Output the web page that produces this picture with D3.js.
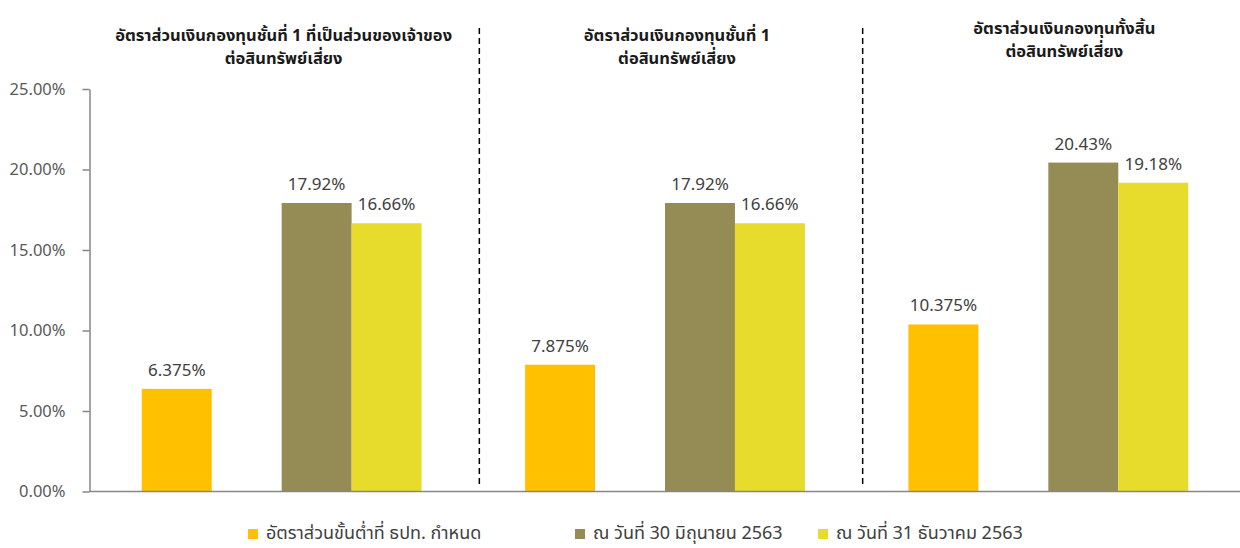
<!DOCTYPE html>
<html>
<head>
<meta charset="utf-8">
<script src="https://cdn.jsdelivr.net/npm/d3@7/dist/d3.min.js"></script>
<style>
  body { margin: 0; background: #fff; }
  svg text { font-family: Tahoma, "Noto Sans Thai", "DejaVu Sans", sans-serif; }
</style>
</head>
<body>
<svg id="chart" width="1240" height="548"></svg>
<script>
// Chart data
const groupTitles = [
  ["อัตราส่วนเงินกองทุนชั้นที่ 1 ที่เป็นส่วนของเจ้าของ", "ต่อสินทรัพย์เสี่ยง"],
  ["อัตราส่วนเงินกองทุนชั้นที่ 1", "ต่อสินทรัพย์เสี่ยง"],
  ["อัตราส่วนเงินกองทุนทั้งสิ้น", "ต่อสินทรัพย์เสี่ยง"]
];
const seriesNames = [
  "อัตราส่วนขั้นต่ำที่ ธปท. กำหนด",
  "ณ วันที่ 30 มิถุนายน 2563",
  "ณ วันที่ 31 ธันวาคม 2563"
];
const minRequired = [6.375, 7.875, 10.375];
const jun2563 = [17.92, 17.92, 20.43];
const dec2563 = [16.66, 16.66, 19.18];
const yTicks = [0, 5, 10, 15, 20, 25];

const colors = ["#FFC000", "#958B54", "#E7DB2C"];

// Layout
const margin = { top: 89, right: 0, bottom: 56, left: 90 };
const width = 1240, height = 548;
const plotBottom = height - margin.bottom - 0.5;

const svg = d3.select("#chart");

const groupIdx = groupTitles.map((d, i) => i);

const x0 = d3.scaleBand()
  .domain(groupIdx)
  .range([margin.left, width - margin.right])
  .paddingInner(0)
  .paddingOuter(0);

// slot "gap" is an empty slot between the minimum bar and the two date bars
const x1 = d3.scaleBand()
  .domain(["min", "gap", "jun", "dec"])
  .range([0, x0.bandwidth()])
  .paddingInner(0)
  .paddingOuter(0.74);

const y = d3.scaleLinear()
  .domain([0, 25])
  .range([plotBottom, margin.top]);

// Bars
const rows = groupIdx.map((i) => [
  { key: "min", value: minRequired[i], color: colors[0], label: d3.format(".3f")(minRequired[i]) + "%" },
  { key: "jun", value: jun2563[i], color: colors[1], label: d3.format(".2f")(jun2563[i]) + "%" },
  { key: "dec", value: dec2563[i], color: colors[2], label: d3.format(".2f")(dec2563[i]) + "%" }
]);

const groupsG = svg.selectAll(".group")
  .data(rows)
  .enter()
  .append("g")
  .attr("class", "group")
  .attr("transform", (d, i) => `translate(${x0(i)},0)`);

groupsG.selectAll("rect")
  .data((d) => d)
  .enter()
  .append("rect")
  .attr("x", (d) => x1(d.key))
  .attr("y", (d) => y(d.value))
  .attr("width", x1.bandwidth())
  .attr("height", (d) => y(0) - y(d.value))
  .attr("fill", (d) => d.color);

groupsG.selectAll(".bar-label")
  .data((d) => d)
  .enter()
  .append("text")
  .attr("class", "bar-label")
  .attr("x", (d) => x1(d.key) + x1.bandwidth() / 2)
  .attr("y", (d) => y(d.value) - 13)
  .attr("text-anchor", "middle")
  .attr("font-size", 17)
  .attr("fill", "#404040")
  .text((d) => d.label);

// Group titles
const titleDx = [2, 12, 16];
const titleY = [41, 41, 34];
groupsG.append("text")
  .attr("text-anchor", "middle")
  .attr("font-size", 16.5)
  .attr("font-weight", "bold")
  .attr("fill", "#1a1a1a")
  .selectAll("tspan")
  .data((d, i) => groupTitles[i].map((t) => ({ t, i })))
  .enter()
  .append("tspan")
  .attr("x", (d) => x0.bandwidth() / 2 + titleDx[d.i])
  .attr("y", (d, j) => titleY[d.i] + j * 23)
  .text((d) => d.t);

// Dashed separators
svg.selectAll(".divider")
  .data(groupIdx.slice(0, -1))
  .enter()
  .append("line")
  .attr("class", "divider")
  .attr("x1", (i) => x0(i) + x0.bandwidth() + 6)
  .attr("x2", (i) => x0(i) + x0.bandwidth() + 6)
  .attr("y1", 28)
  .attr("y2", 485)
  .attr("stroke", "#000")
  .attr("stroke-width", 1.5)
  .attr("stroke-dasharray", "6,4");

// Y axis
const yAxis = svg.append("g")
  .attr("transform", `translate(${margin.left - 0.5},0)`)
  .call(d3.axisLeft(y)
    .tickValues(yTicks)
    .tickSize(7)
    .tickSizeOuter(0)
    .tickPadding(17)
    .tickFormat((d) => d.toFixed(2) + "%"));

yAxis.select(".domain").attr("stroke", "#868686").attr("stroke-width", 1.5);
yAxis.selectAll(".tick line").attr("stroke", "#868686").attr("stroke-width", 1.5);
yAxis.selectAll(".tick text")
  .attr("font-size", 16.5)
  .attr("fill", "#595959");

// X baseline
svg.append("line")
  .attr("x1", margin.left - 0.5)
  .attr("x2", width)
  .attr("y1", y(0))
  .attr("y2", y(0))
  .attr("stroke", "#868686")
  .attr("stroke-width", 1.5);

// Legend
const legendX = [248, 575, 818];
const legend = svg.selectAll(".legend")
  .data(seriesNames)
  .enter()
  .append("g")
  .attr("class", "legend")
  .attr("transform", (d, i) => `translate(${legendX[i]},529)`);

legend.append("rect")
  .attr("width", 10)
  .attr("height", 10)
  .attr("fill", (d, i) => colors[i]);

legend.append("text")
  .attr("x", 18)
  .attr("y", 10)
  .attr("font-size", 18)
  .attr("fill", "#404040")
  .text((d) => d);
</script>
</body>
</html>
